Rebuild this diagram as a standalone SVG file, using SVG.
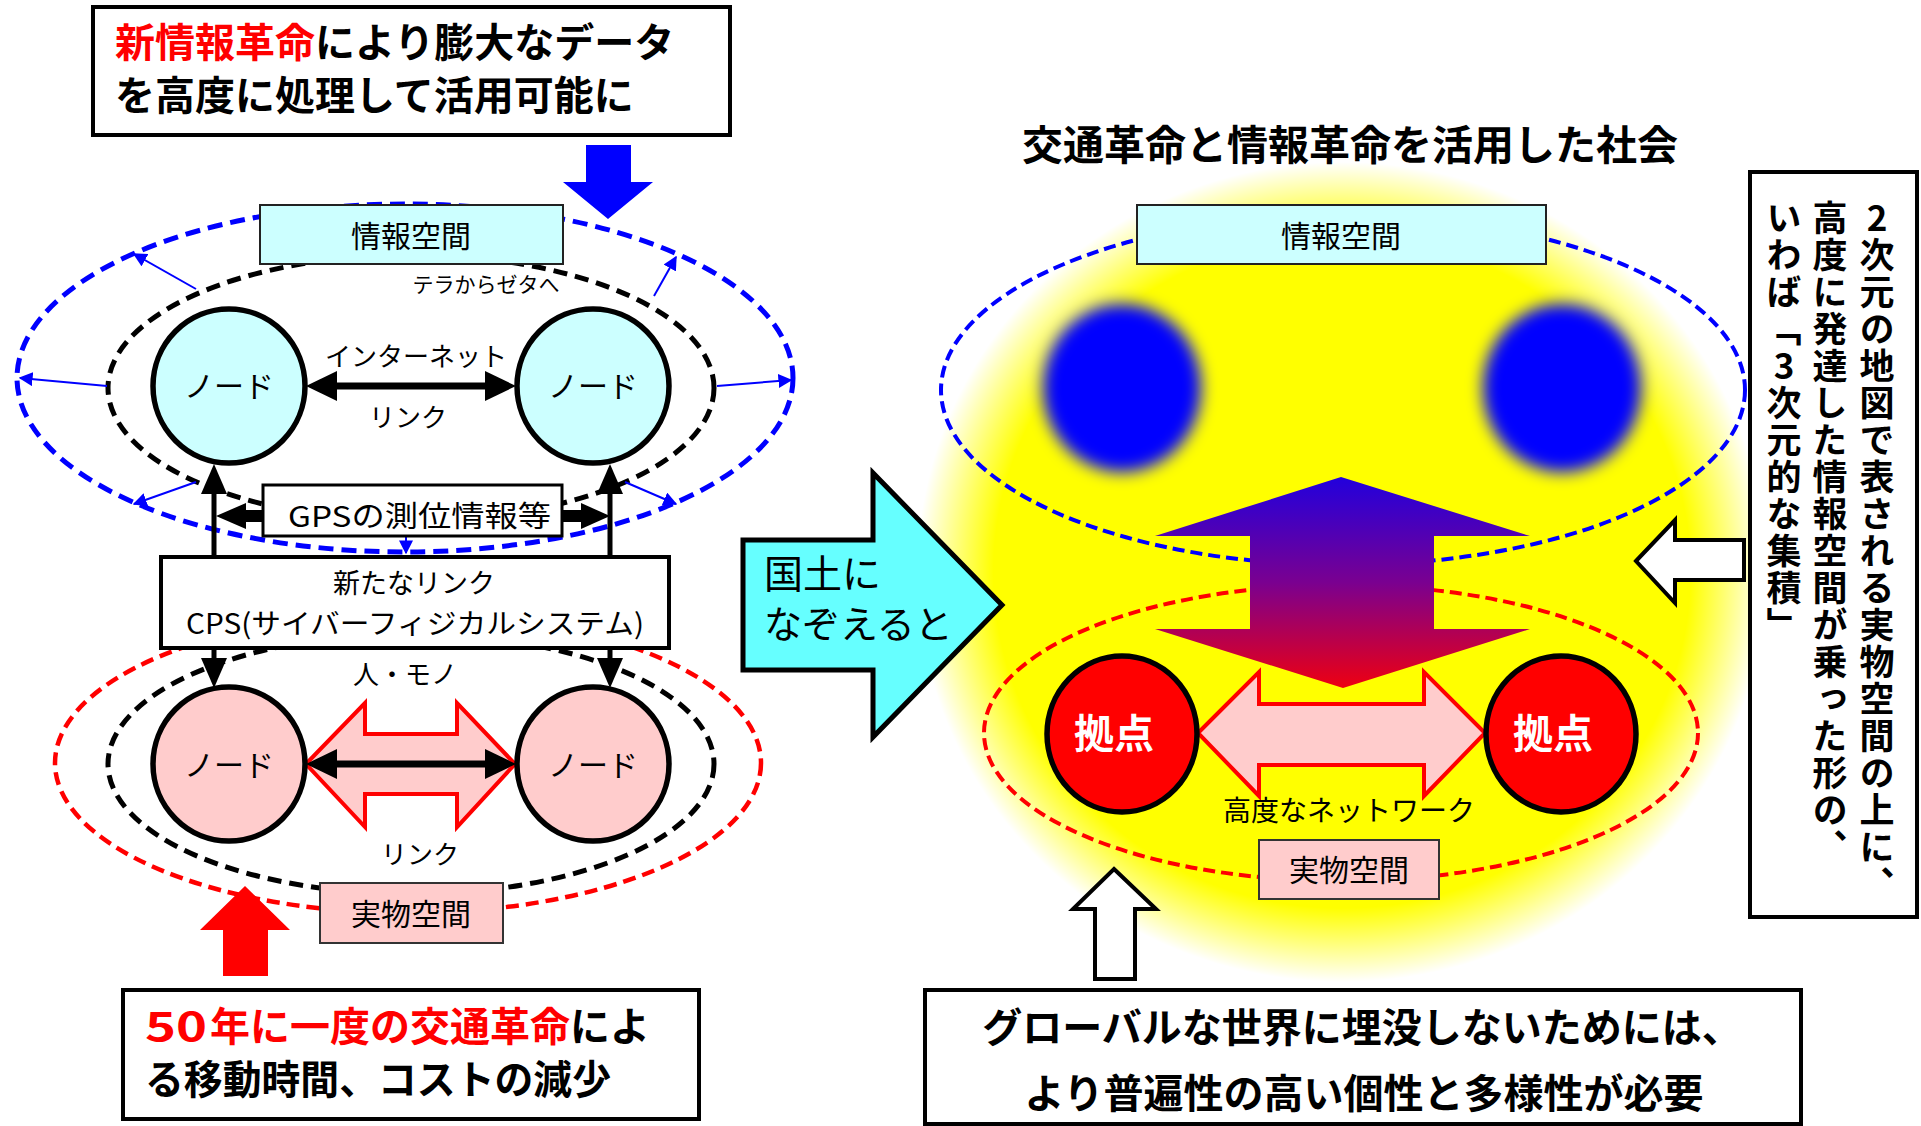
<svg xmlns="http://www.w3.org/2000/svg" width="1921" height="1126" viewBox="0 0 1921 1126">
<defs>
<style>
text{font-family:"Noto Sans CJK JP","Noto Sans CJK SC",sans-serif;fill:#000}
.b{font-weight:bold}
.r{fill:#FF0000}
.c{text-anchor:middle}
.box{fill:#fff;stroke:#000;stroke-width:4}
.cyanbox{fill:#CCFFFF;stroke:#222;stroke-width:2}
.pinkbox{fill:#FFCCCC;stroke:#333;stroke-width:2}
.node{stroke:#000;stroke-width:5.5}
.bd{fill:none;stroke:#0000FF;stroke-width:5;stroke-dasharray:15 8}
.kd{fill:none;stroke:#000;stroke-width:5;stroke-dasharray:14 8}
.rd{fill:none;stroke:#FF0000;stroke-width:4.5;stroke-dasharray:13 7}
.bd2{fill:none;stroke:#0000FF;stroke-width:4;stroke-dasharray:12 6}
.rd2{fill:none;stroke:#FF0000;stroke-width:4;stroke-dasharray:12 6}
.thin{stroke:#0000FF;stroke-width:2;fill:none;marker-end:url(#bh)}
.vt{writing-mode:vertical-rl;text-orientation:upright;font-size:35px;font-weight:bold;letter-spacing:2px}
</style>
<marker id="bh" viewBox="0 0 10 10" refX="9" refY="5" markerWidth="7" markerHeight="7" markerUnits="strokeWidth" orient="auto">
<path d="M0,0 L10,5 L0,10 z" fill="#0000FF"/>
</marker>
<radialGradient id="glow" cx="0.5" cy="0.5" r="0.5">
<stop offset="0" stop-color="#FFFF00"/>
<stop offset="0.82" stop-color="#FFFF00"/>
<stop offset="1" stop-color="#FFFF00" stop-opacity="0"/>
</radialGradient>
<linearGradient id="vgrad" x1="0" y1="0" x2="0" y2="1">
<stop offset="0" stop-color="#2200DD"/>
<stop offset="0.5" stop-color="#7A0090"/>
<stop offset="1" stop-color="#EE0011"/>
</linearGradient>
<filter id="blur" x="-50%" y="-50%" width="200%" height="200%">
<feGaussianBlur stdDeviation="8"/>
</filter>
</defs>
<rect width="1921" height="1126" fill="#fff"/>

<!-- Right scene background -->
<g id="right-background">
<ellipse cx="1342" cy="572" rx="425" ry="410" fill="url(#glow)"/>
<ellipse cx="1122" cy="388" rx="79" ry="84" fill="#0000FF" filter="url(#blur)"/>
<ellipse cx="1562" cy="388" rx="79" ry="84" fill="#0000FF" filter="url(#blur)"/>
<ellipse cx="1343" cy="390" rx="402" ry="175" class="bd2"/>
<ellipse cx="1341" cy="733" rx="357" ry="148" class="rd2"/>
</g>

<!-- Left regions -->
<g id="left-regions">
<ellipse cx="405" cy="378" rx="388" ry="174" class="bd"/>
<ellipse cx="411" cy="388" rx="303" ry="133" class="kd"/>
<ellipse cx="408" cy="763" rx="353" ry="150" class="rd"/>
<ellipse cx="411" cy="764" rx="303" ry="130" class="kd"/>
</g>

<!-- Connectors -->
<g id="connectors">
<line x1="196" y1="289" x2="134" y2="254" class="thin"/>
<line x1="654" y1="296" x2="676" y2="257" class="thin"/>
<line x1="107" y1="386" x2="20" y2="378" class="thin"/>
<line x1="717" y1="386" x2="791" y2="380" class="thin"/>
<line x1="196" y1="482" x2="134" y2="504" class="thin"/>
<line x1="625" y1="482" x2="676" y2="504" class="thin"/>
<line x1="406" y1="536" x2="406" y2="553" class="thin"/>
<!-- internet link -->
<line x1="334" y1="386" x2="488" y2="386" stroke="#000" stroke-width="7"/>
<polygon points="306,386 337,371 337,401" fill="#000"/>
<polygon points="516,386 485,371 485,401" fill="#000"/>
<!-- vertical CPS lines -->
<line x1="214" y1="490" x2="214" y2="662" stroke="#000" stroke-width="5"/>
<line x1="610" y1="490" x2="610" y2="662" stroke="#000" stroke-width="5"/>
<polygon points="214,464 201,494 227,494" fill="#000"/>
<polygon points="610,464 597,494 623,494" fill="#000"/>
<polygon points="214,688 201,658 227,658" fill="#000"/>
<polygon points="610,688 597,658 623,658" fill="#000"/>
<!-- GPS arrows -->
<rect x="243" y="510" width="22" height="12" fill="#000"/>
<polygon points="216,516 246,503 246,529" fill="#000"/>
<rect x="560" y="510" width="23" height="12" fill="#000"/>
<polygon points="610,516 581,503 581,529" fill="#000"/>
<!-- physical link -->
<polygon points="306,764 365,703 365,734 457,734 457,703 515,764 457,827 457,794 365,794 365,827" fill="#FFCCCC" stroke="#FF0000" stroke-width="4" stroke-linejoin="miter"/>
<line x1="334" y1="764" x2="488" y2="764" stroke="#000" stroke-width="7"/>
<polygon points="306,764 337,749 337,779" fill="#000"/>
<polygon points="516,764 485,749 485,779" fill="#000"/>
<!-- big arrows -->
<polygon points="586,145 631,145 631,182 653,182 608,219 563,182 586,182" fill="#0000FF"/>
<polygon points="245,886 290,930 268,930 268,976 223,976 223,930 200,930" fill="#FF0000"/>
<!-- right arrows -->
<polygon points="1341,477 1530,536 1434,536 1434,629 1530,629 1343,688 1155,629 1250,629 1250,536 1155,536" fill="url(#vgrad)"/>
<polygon points="1198,733 1259,672 1259,704 1424,704 1424,672 1485,733 1424,796 1424,765 1259,765 1259,796" fill="#FFCCCC" stroke="#FF0000" stroke-width="4"/>
<polygon points="1114,869 1156,909 1135,909 1135,979 1095,979 1095,909 1073,909" fill="#fff" stroke="#000" stroke-width="4"/>
<polygon points="1636,561 1675,520 1675,540 1744,540 1744,580 1675,580 1675,603" fill="#fff" stroke="#000" stroke-width="4"/>
</g>

<!-- Top left box -->
<g id="info-revolution">
<rect x="93" y="7" width="637" height="128" class="box"/>
<text x="115" y="57" font-size="40" class="b"><tspan class="r">新情報革命</tspan>により膨大なデータ</text>
<text x="115" y="110" font-size="40" class="b">を高度に処理して活用可能に</text>
</g>

<g id="info-space-left">
<rect x="260" y="205" width="303" height="59" class="cyanbox"/>
<text x="411" y="247" font-size="30" class="c">情報空間</text>
</g>
<text x="486" y="292" font-size="21" class="c">テラからゼタへ</text>
<text x="416" y="366" font-size="26" class="c">インターネット</text>
<text x="408" y="427" font-size="26" class="c">リンク</text>

<g id="node-tl">
<ellipse cx="229" cy="386" rx="76" ry="77" fill="#CCFFFF" class="node"/>
<text x="229" y="397" font-size="30" class="c">ノード</text>
</g>
<g id="node-tr">
<ellipse cx="593" cy="386" rx="76" ry="77" fill="#CCFFFF" class="node"/>
<text x="593" y="397" font-size="30" class="c">ノード</text>
</g>

<g id="gps">
<rect x="263" y="485" width="299" height="51" fill="#fff" stroke="#000" stroke-width="3"/>
<text x="288" y="527" font-size="29" textLength="263" lengthAdjust="spacingAndGlyphs">GPSの測位情報等</text>
</g>

<g id="cps">
<rect x="161" y="557" width="508" height="91" class="box"/>
<text x="414" y="593" font-size="27" class="c">新たなリンク</text>
<text x="186" y="634" font-size="28" textLength="458" lengthAdjust="spacingAndGlyphs">CPS(サイバーフィジカルシステム)</text>
</g>

<text x="405" y="684" font-size="26" class="c">人・モノ</text>
<text x="420" y="864" font-size="26" class="c">リンク</text>

<g id="node-bl">
<ellipse cx="229" cy="764" rx="76" ry="77" fill="#FFCCCC" class="node"/>
<text x="229" y="776" font-size="30" class="c">ノード</text>
</g>
<g id="node-br">
<ellipse cx="593" cy="764" rx="76" ry="77" fill="#FFCCCC" class="node"/>
<text x="593" y="776" font-size="30" class="c">ノード</text>
</g>

<g id="real-space-left">
<rect x="320" y="883" width="183" height="60" class="pinkbox"/>
<text x="411" y="925" font-size="30" class="c">実物空間</text>
</g>

<g id="transport-revolution">
<rect x="123" y="990" width="576" height="129" class="box"/>
<text x="145" y="1041" font-size="40" class="b r" textLength="62" lengthAdjust="spacingAndGlyphs">50</text>
<text x="210" y="1041" font-size="40" class="b"><tspan class="r">年に一度の交通革命</tspan>によ</text>
<text x="145" y="1094" font-size="40" class="b" textLength="466" lengthAdjust="spacingAndGlyphs">る移動時間、コストの減少</text>
</g>

<g id="map-arrow">
<polygon points="743,540 873,540 873,473 1002,605 873,737 873,670 743,670" fill="#66FFFF" stroke="#000" stroke-width="5"/>
<text x="764" y="588" font-size="39">国土に</text>
<text x="764" y="638" font-size="38">なぞえると</text>
</g>

<text x="1350" y="160" font-size="41" class="b c">交通革命と情報革命を活用した社会</text>

<g id="info-space-right">
<rect x="1137" y="205" width="409" height="59" class="cyanbox"/>
<text x="1341" y="247" font-size="30" class="c">情報空間</text>
</g>

<g id="hub-left">
<ellipse cx="1122" cy="734" rx="75" ry="78" fill="#FF0000" class="node"/>
<text x="1114" y="748" font-size="40" class="b c" style="fill:#fff">拠点</text>
</g>
<g id="hub-right">
<ellipse cx="1561" cy="734" rx="75" ry="78" fill="#FF0000" class="node"/>
<text x="1553" y="748" font-size="40" class="b c" style="fill:#fff">拠点</text>
</g>
<text x="1349" y="821" font-size="28" class="c">高度なネットワーク</text>

<g id="real-space-right">
<rect x="1259" y="840" width="180" height="59" class="pinkbox"/>
<text x="1349" y="881" font-size="30" class="c">実物空間</text>
</g>

<g id="note-vertical">
<rect x="1750" y="172" width="167" height="745" class="box"/>
<text x="1877" y="200" class="vt">2次元の地図で表される実物空間の上に、</text>
<text x="1830" y="200" class="vt">高度に発達した情報空間が乗った形の、</text>
<text x="1784" y="200" class="vt">いわば「3次元的な集積」</text>
</g>

<g id="note-bottom">
<rect x="925" y="990" width="876" height="134" class="box"/>
<text x="1362" y="1042" font-size="40" class="b c">グローバルな世界に埋没しないためには、</text>
<text x="1364" y="1108" font-size="40" class="b c">より普遍性の高い個性と多様性が必要</text>
</g>
</svg>
